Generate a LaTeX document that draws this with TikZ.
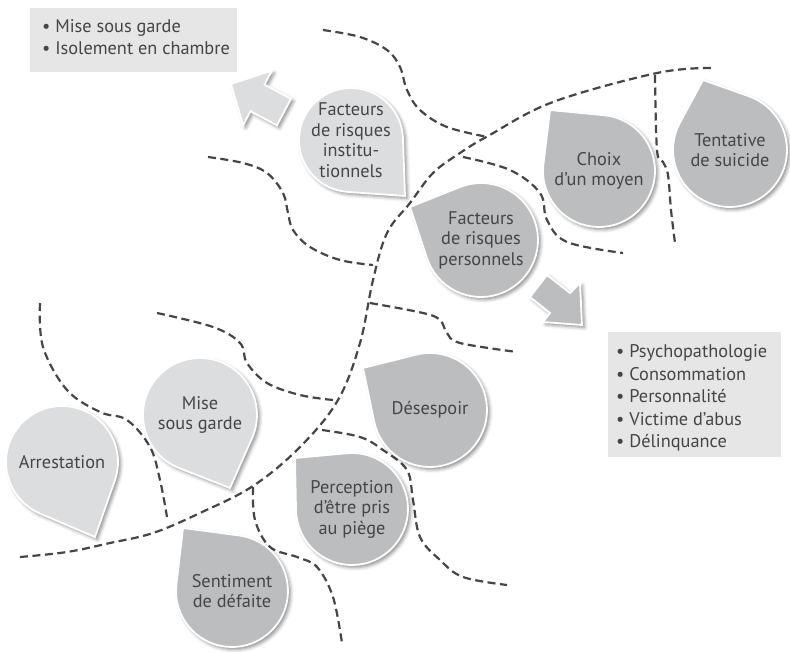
\documentclass[tikz,border=0pt]{standalone}
\usepackage{fontspec}
\setmainfont{PT Sans}
\usetikzlibrary{shadows.blur}
\definecolor{boxgray}{HTML}{E6E6E7}
\definecolor{lightdrop}{HTML}{DCDDDE}
\definecolor{darkdrop}{HTML}{BCBDBF}
\definecolor{txtc}{HTML}{454547}
\definecolor{dashc}{HTML}{454545}
\tikzset{
  dashline/.style={draw=dashc, line width=2.2pt, dash pattern=on 8pt off 4.5pt},
  shad/.style={blur shadow={shadow xshift=2.5pt, shadow yshift=-2.5pt, shadow blur radius=3.5pt, shadow opacity=45}},
  lightshape/.style={shad, fill=lightdrop, draw=white, line width=1.8pt},
  darkshape/.style={shad, fill=darkdrop, draw=white, line width=1.8pt},
  droptext/.style={text=txtc, align=center, font=\fontsize{18.3}{20.5}\selectfont, inner sep=0pt},
  listtext/.style={text=txtc, align=left, font=\fontsize{18.3}{22.5}\selectfont, inner sep=0pt},
  listbox/.style={fill=boxgray, draw=none, inner sep=0pt},
}
% #1 name, #2 cx, #3 cy, #4 r, #5 corner x, #6 corner y, #7 style, #8 text
\newcommand\tdrop[8]{%
  \pgfmathsetmacro\tdx{#5-#2}%
  \pgfmathsetmacro\tdy{#3-#6}%
  \pgfmathsetmacro\tdd{veclen(\tdx,\tdy)}%
  \pgfmathsetmacro\tph{atan2(\tdy,\tdx)}%
  \pgfmathsetmacro\tal{acos(#4/\tdd)}%
  \pgfmathsetmacro\tsa{\tph+\tal}%
  \pgfmathsetmacro\tea{\tph-\tal+360}%
  \path[#7] (#5,#6) -- ([shift={(\tsa:#4pt)}]#2,#3)
     arc[start angle=\tsa, end angle=\tea, radius=#4pt] -- cycle;
  \node[droptext] (#1) at (#2,#3) {#8};
}
\begin{document}
\begin{tikzpicture}[x=1pt, y=-1pt]
\useasboundingbox (0,0) rectangle (790,651);

% dashed boundaries
\draw[dashline] plot[smooth, tension=0.6] coordinates {(20,557) (67,552) (110,543) (153,533) (200,513) (253,486) (300,447) (338,400) (360,343) (373,280) (387,233) (410,203) (433,173) (460,153) (488,136) (553,102) (657,73) (712,68)};
\draw[dashline] plot[smooth, tension=0.6] coordinates {(323,30) (360,37) (387,50) (400,67) (407,90) (420,110) (447,127) (488,137)};
\draw[dashline] plot[smooth, tension=0.6] coordinates {(208,157) (243,163) (267,173) (283,193) (288,213) (293,230) (310,247) (340,260) (373,265)};
\draw[dashline] plot[smooth, tension=0.6] coordinates {(463,157) (510,170) (540,193) (547,220) (567,242) (623,253)};
\draw[dashline] plot[smooth, tension=0.6] coordinates {(655,75) (657,150) (663,162) (668,175) (671,210) (675,243)};
\draw[dashline] plot[smooth, tension=0.6] coordinates {(40,303) (43,347) (67,390) (100,412) (127,420) (150,447) (160,480) (167,517)};
\draw[dashline] plot[smooth, tension=0.6] coordinates {(157,313) (213,327) (240,343) (247,363) (267,383) (300,395) (333,400)};
\draw[dashline] plot[smooth, tension=0.6] coordinates {(370,303) (423,313) (440,320) (447,333) (460,343) (517,352)};
\draw[dashline] plot[smooth, tension=0.6] coordinates {(322,430) (360,437) (383,450) (407,470) (413,500) (420,537) (440,560) (463,577) (507,585)};
\draw[dashline] plot[smooth, tension=0.6] coordinates {(253,487) (255,520) (270,547) (297,557) (317,567) (333,597) (342,643)};

% list boxes
\node[listbox, minimum width=207pt, minimum height=64pt, anchor=north west] (boxtl) at (30,8) {};
\node[listtext, anchor=west] (listtl) at (42,37) {• Mise sous garde\\• Isolement en chambre};
\node[listbox, minimum width=173pt, minimum height=125pt, anchor=north west] (boxbr) at (608,332) {};
\node[listtext, anchor=west] (listbr) at (616,398) {• Psychopathologie\\• Consommation\\• Personnalité\\• Victime d’abus\\• Délinquance};

% arrows
\path[lightshape] (231,84) -- (271.9,70.6) -- (264.5,84.7) -- (291,98.7) -- (277,125.3) -- (250.5,111.3) -- (243.1,125.4) -- cycle;
\path[darkshape] (582,325) -- (580,283) -- (570,293) -- (547,275) -- (530,297) -- (550,313) -- (543,322) -- cycle;

% drops
\tdrop{inst}{351}{140}{52}{405}{196}{lightshape}{Facteurs\\de risques\\institu-\\tionnels}
\tdrop{choix}{599}{171}{56}{550}{110}{darkshape}{Choix\\d’un moyen}
\tdrop{tent}{730}{150}{57}{703}{80}{darkshape}{Tentative\\de suicide}
\tdrop{pers}{481}{240}{57}{410}{207}{darkshape}{Facteurs\\de risques\\personnels}
\tdrop{deses}{430}{410}{57}{363}{368}{darkshape}{Désespoir}
\tdrop{percep}{352}{509}{56}{295}{458}{darkshape}{Perception\\d’être pris\\au piège}
\tdrop{sent}{232}{591}{56}{183}{528}{darkshape}{Sentiment\\de défaite}
\tdrop{mise}{200}{415}{57}{230}{488}{lightshape}{Mise\\sous garde}
\tdrop{arrest}{62}{462}{56}{95}{537}{lightshape}{Arrestation}
\end{tikzpicture}
\end{document}
